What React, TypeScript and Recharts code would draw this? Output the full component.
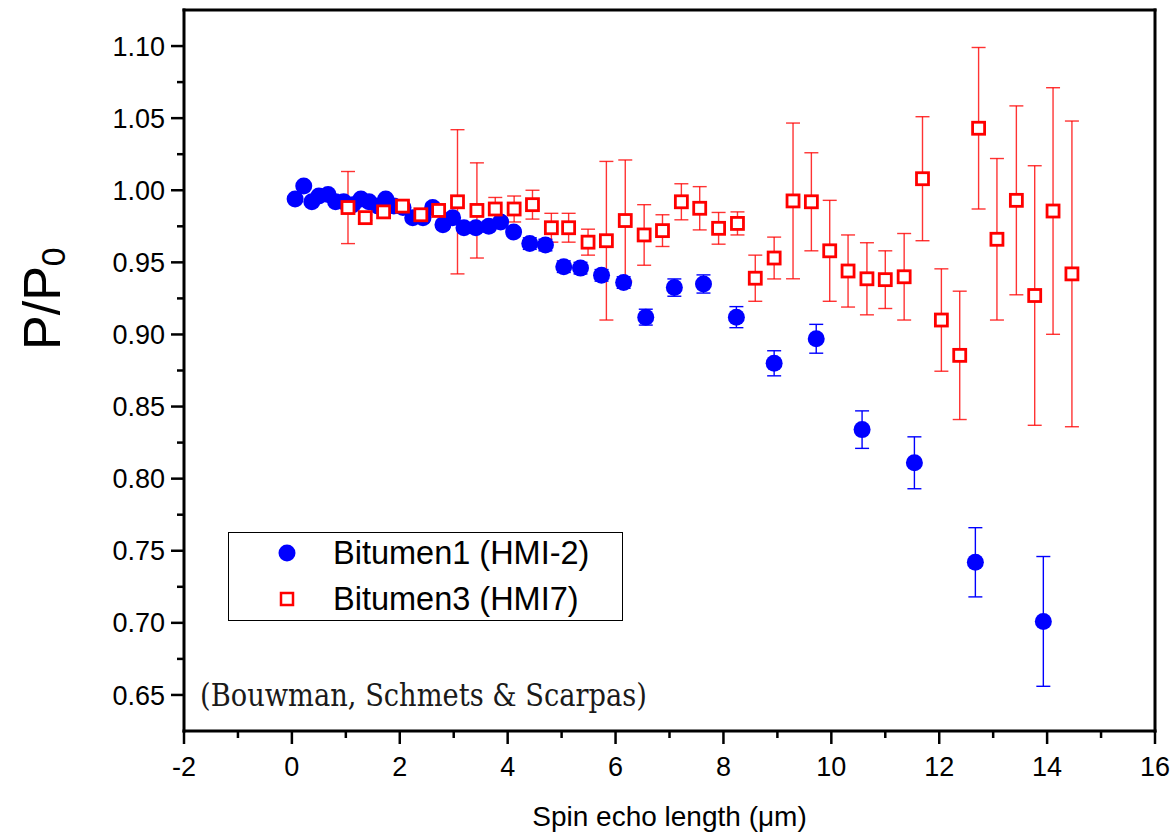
import { ScatterChart, Scatter, XAxis, YAxis, ErrorBar, Legend, Customized, ReferenceLine } from "recharts";

const FONT = '"Liberation Sans", Arial, Helvetica, sans-serif';

// axis ticks
const xTicks = [-2, 0, 2, 4, 6, 8, 10, 12, 14, 16];
const xMinorTicks = [-1, 1, 3, 5, 7, 9, 11, 13, 15];
const yTicks = [0.65, 0.7, 0.75, 0.8, 0.85, 0.9, 0.95, 1.0, 1.05, 1.1];
const yMinorTicks = [0.675, 0.725, 0.775, 0.825, 0.875, 0.925, 0.975, 1.025, 1.075];

// Bitumen1 (HMI-2)
const blueX = [
  0.06, 0.22, 0.37, 0.5, 0.67, 0.81, 0.96, 1.13, 1.28, 1.43, 1.59, 1.74, 1.89, 2.06,
  2.24, 2.43, 2.61, 2.8, 2.98, 3.19, 3.41, 3.65, 3.87, 4.11, 4.41, 4.7, 5.04, 5.35,
  5.74, 6.15, 6.56, 7.09, 7.63, 8.24, 8.94, 9.72, 10.57, 11.54, 12.67, 13.93,
];
const blueY = [
  0.994, 1.003, 0.992, 0.996, 0.997, 0.992, 0.992, 0.99, 0.994, 0.992, 0.989, 0.994, 0.989, 0.988,
  0.981, 0.981, 0.988, 0.976, 0.981, 0.974, 0.974, 0.975, 0.978, 0.971, 0.963, 0.962, 0.947, 0.946,
  0.941, 0.936, 0.912, 0.9325, 0.935, 0.912, 0.88, 0.897, 0.834, 0.811, 0.742, 0.701,
];
const blueErr = [
  0.002, 0.002, 0.002, 0.002, 0.002, 0.002, 0.002, 0.002, 0.002, 0.002, 0.002, 0.002, 0.002, 0.002,
  0.003, 0.003, 0.003, 0.003, 0.003, 0.003, 0.003, 0.003, 0.003, 0.003, 0.004, 0.004, 0.004, 0.004,
  0.004, 0.004, 0.0055, 0.006, 0.0063, 0.0073, 0.0087, 0.01, 0.013, 0.018, 0.024, 0.045,
];

// Bitumen3 (HMI7)
const redX = [
  1.04, 1.36, 1.7, 2.05, 2.39, 2.72, 3.07, 3.43, 3.77, 4.12, 4.46, 4.81, 5.13, 5.49,
  5.83, 6.18, 6.53, 6.87, 7.22, 7.56, 7.91, 8.26, 8.59, 8.94, 9.29, 9.63, 9.97, 10.31,
  10.66, 11.0, 11.35, 11.69, 12.04, 12.38, 12.73, 13.07, 13.43, 13.77, 14.11, 14.46,
];
const redY = [
  0.988, 0.981, 0.985, 0.989, 0.983, 0.986, 0.992, 0.986, 0.987, 0.987, 0.99, 0.974, 0.974, 0.964,
  0.965, 0.979, 0.969, 0.972, 0.992, 0.9875, 0.9736, 0.977, 0.939, 0.953, 0.9926, 0.992, 0.958, 0.944,
  0.9386, 0.938, 0.94, 1.008, 0.91, 0.8855, 1.043, 0.966, 0.993, 0.927, 0.9856, 0.942,
];
const redErr = [
  0.025, 0.002, 0.004, 0.004, 0.002, 0.003, 0.05, 0.033, 0.008, 0.009, 0.01, 0.01, 0.01, 0.009,
  0.055, 0.042, 0.021, 0.011, 0.0125, 0.015, 0.011, 0.008, 0.016, 0.0145, 0.054, 0.034, 0.035, 0.025,
  0.025, 0.02, 0.03, 0.043, 0.0355, 0.0445, 0.056, 0.056, 0.0655, 0.09, 0.0855, 0.106,
];

const blueData = blueX.map((x, i) => ({ x, y: blueY[i], err: blueErr[i] }));
const redData = redX.map((x, i) => ({ x, y: redY[i], err: redErr[i] }));

const BLUE = "#0000ff";
const RED = "#ff0000";
const TICK = 13;
const MINOR = 7;

const allXTicks = [...xTicks, ...xMinorTicks].sort((a, b) => a - b);
const allYTicks = [...yTicks, ...yMinorTicks].sort((a, b) => a - b);

const XTick = ({ x, y, payload }: any) => {
  const major = xTicks.includes(payload.value);
  const y0 = y - TICK - 13;
  return (
    <g>
      <line x1={x} x2={x} y1={y0} y2={y0 + (major ? TICK : MINOR)} stroke="#000" strokeWidth={2.5} />
      {major && (
        <text x={x} y={y} dy="0.71em" textAnchor="middle" fill="#000" fontSize={27} fontFamily={FONT}>
          {payload.value}
        </text>
      )}
    </g>
  );
};

const YTick = ({ x, y, payload }: any) => {
  const major = yTicks.includes(payload.value);
  const x0 = x + TICK + 6;
  return (
    <g>
      <line x1={x0} x2={x0 - (major ? TICK : MINOR)} y1={y} y2={y} stroke="#000" strokeWidth={2.5} />
      {major && (
        <text x={x} y={y} dy="0.355em" textAnchor="end" fill="#000" fontSize={27} fontFamily={FONT}>
          {payload.value.toFixed(2)}
        </text>
      )}
    </g>
  );
};

const YTitle = ({ viewBox }: any) => {
  const x = viewBox.x + 60;
  const y = viewBox.y + 340;
  return (
    <text transform={`rotate(-90 ${x} ${y})`} x={x} y={y} fill="#000" fontSize={52} fontFamily={FONT}>
      P/P
      <tspan fontSize={34} dy={5}>0</tspan>
    </text>
  );
};

const Circle = (p: any) => <circle cx={p.cx} cy={p.cy} r={8.5} fill={BLUE} />;
const Square = (p: any) => (
  <rect x={p.cx - 6} y={p.cy - 6} width={12} height={12} fill="#fff" stroke={RED} strokeWidth={2.8} />
);

const renderLegend = () => (
  <div
    style={{
      position: "relative",
      width: 393,
      height: 87,
      border: "1.5px solid #000",
      background: "#fff",
      fontFamily: FONT,
      fontSize: 32.5,
      color: "#000",
    }}
  >
    <svg style={{ position: "absolute", left: 0, top: 0 }} width={100} height={87}>
      <circle cx={58} cy={20} r={8.5} fill={BLUE} />
      <rect x={52} y={60} width={12} height={12} fill="#fff" stroke={RED} strokeWidth={2.5} />
    </svg>
    <div style={{ position: "absolute", left: 104, top: 20, transform: "translateY(-50%)", whiteSpace: "nowrap" }}>
      Bitumen1 (HMI-2)
    </div>
    <div style={{ position: "absolute", left: 104, top: 66, transform: "translateY(-50%)", whiteSpace: "nowrap" }}>
      Bitumen3 (HMI7)
    </div>
  </div>
);

const Credit = () => (
  <text
    x={200}
    y={706}
    fill="#1a1a1a"
    fontSize={32}
    fontFamily='"DejaVu Serif", "Liberation Serif", serif'
    textLength={447}
    lengthAdjust="spacingAndGlyphs"
  >
    (Bouwman, Schmets &amp; Scarpas)
  </text>
);

export default function App() {
  return (
    <div style={{ position: "absolute", left: 0, top: 0, background: "#fff" }}>
      <ScatterChart width={1170} height={838} margin={{ top: 10, right: 15, bottom: 0, left: 0 }}>
        <XAxis
          dataKey="x"
          type="number"
          domain={[-2, 16]}
          ticks={allXTicks}
          interval={0}
          allowDataOverflow
          height={107}
          tickSize={TICK}
          tickMargin={13}
          tickLine={false}
          tick={<XTick />}
          axisLine={{ stroke: "#000", strokeWidth: 3, strokeLinecap: "square" }}
          label={{
            value: "Spin echo length (\u03bcm)",
            position: "insideBottom",
            offset: 12,
            fill: "#000",
            fontSize: 28,
            fontFamily: FONT,
          }}
        />
        <YAxis
          dataKey="y"
          type="number"
          domain={[0.625, 1.125]}
          ticks={allYTicks}
          interval={0}
          allowDataOverflow
          width={184}
          tickSize={TICK}
          tickMargin={6}
          tickLine={false}
          tick={<YTick />}
          axisLine={{ stroke: "#000", strokeWidth: 3, strokeLinecap: "square" }}
          label={{ content: <YTitle /> }}
        />
        {/* frame on top and right */}
        <ReferenceLine y={1.125} stroke="#000" strokeWidth={3} strokeLinecap="square" ifOverflow="visible" />
        <ReferenceLine x={16} stroke="#000" strokeWidth={3} strokeLinecap="square" ifOverflow="visible" />
        <Scatter name="Bitumen1 (HMI-2)" data={blueData} fill={BLUE} shape={Circle} isAnimationActive={false}>
          <ErrorBar dataKey="err" direction="y" width={7} stroke={BLUE} strokeWidth={1.4} />
        </Scatter>
        <Scatter name="Bitumen3 (HMI7)" data={redData} fill={RED} shape={Square} isAnimationActive={false}>
          <ErrorBar dataKey="err" direction="y" width={7} stroke={RED} strokeWidth={1.4} strokeOpacity={0.8} />
        </Scatter>
        <Legend
          layout="vertical"
          align="center"
          verticalAlign="middle"
          content={renderLegend}
          wrapperStyle={{ left: 228, top: 532, width: 396, height: 90 }}
        />
        <Customized component={Credit} />
      </ScatterChart>
    </div>
  );
}
